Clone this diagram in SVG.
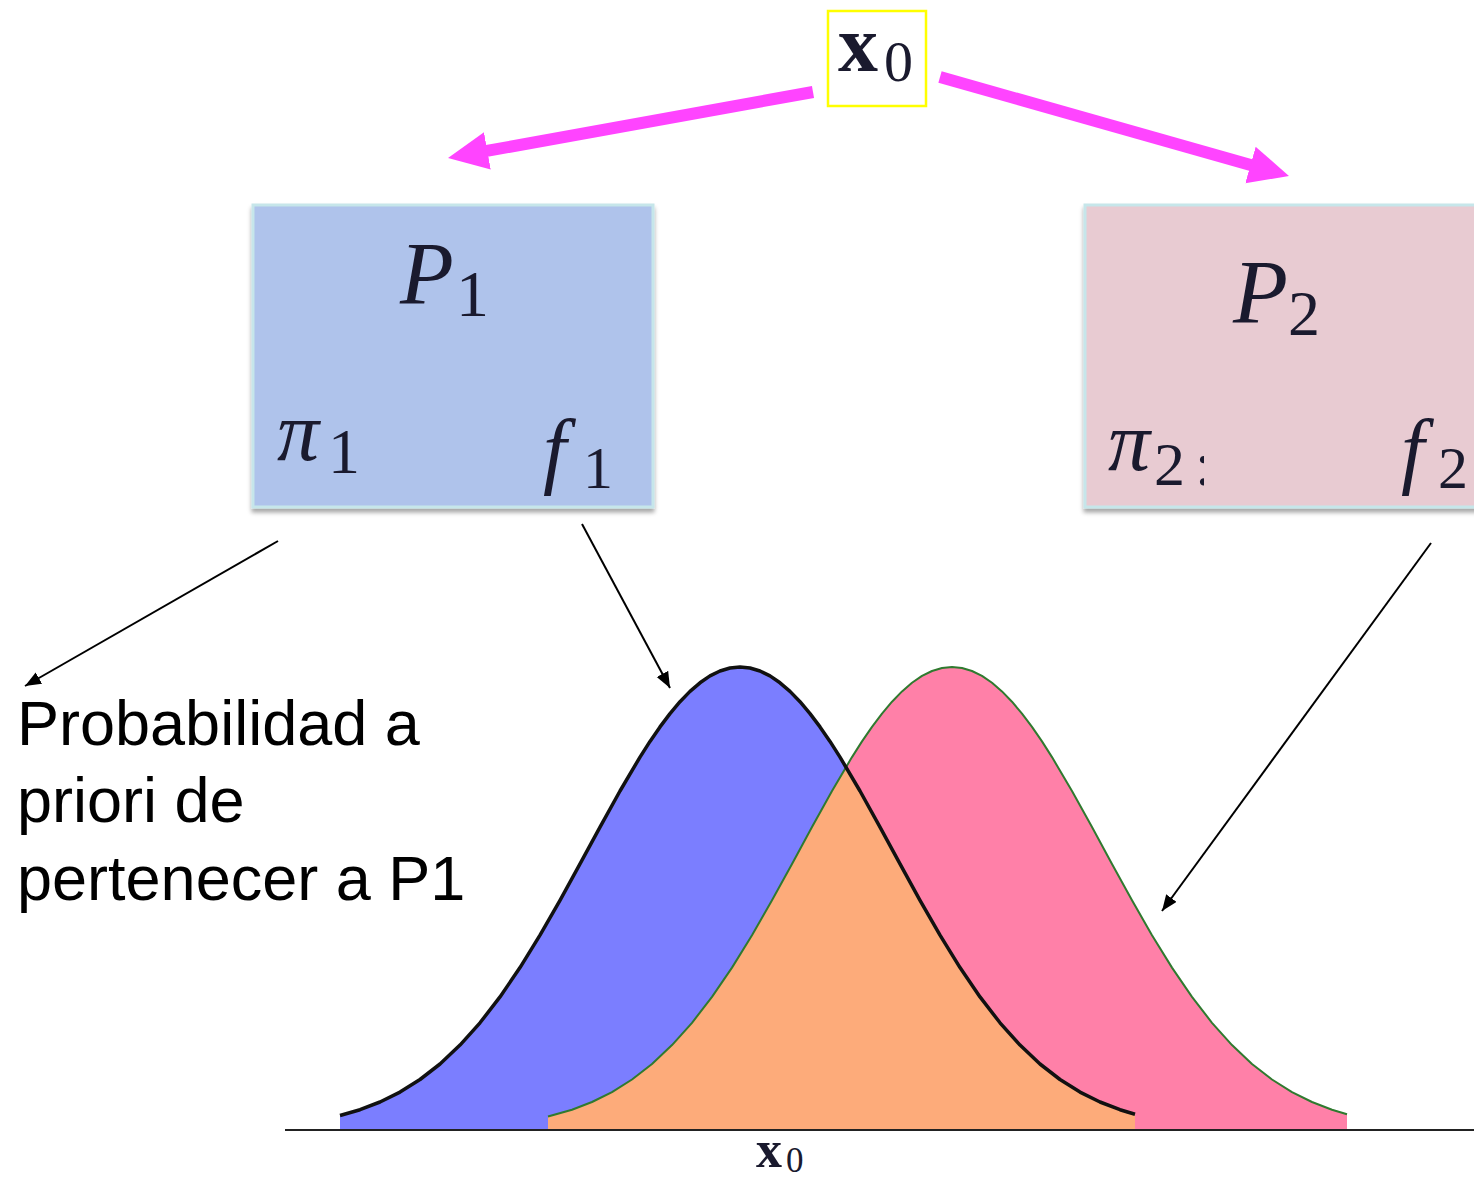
<svg xmlns="http://www.w3.org/2000/svg" width="1474" height="1181" viewBox="0 0 1474 1181">
<style>
.math{font-family:"Liberation Serif","DejaVu Serif",serif;fill:#1a1a2e}
.it{font-style:italic}
.lbl{font-family:"Liberation Sans",Arial,sans-serif;font-size:63px;fill:#000}
.thin{stroke:#000;stroke-width:2;fill:none}
.thick{stroke:#ff44ff;stroke-width:12;fill:none}
.box1{fill:#afc3eb;stroke:#c6e6ea;stroke-width:3}
.box2{fill:#e8cbd2;stroke:#c6e6ea;stroke-width:3}
</style>
<defs>
<marker id="mag" markerUnits="userSpaceOnUse" markerWidth="42" markerHeight="40" refX="2" refY="19" orient="auto">
<path d="M0,0 L40,19 L0,38 Z" fill="#ff44ff"/>
</marker>
<marker id="blk" markerUnits="userSpaceOnUse" markerWidth="18" markerHeight="14" refX="16" refY="6.5" orient="auto">
<path d="M0,0 L16,6.5 L0,13 Z" fill="#000"/>
</marker>
<filter id="sh" x="-5%" y="-5%" width="110%" height="115%">
<feDropShadow dx="0" dy="4" stdDeviation="2" flood-color="#000" flood-opacity="0.35"/>
</filter>
<clipPath id="clipc"><rect x="1190" y="430" width="14" height="80"/></clipPath>
</defs>
<rect width="1474" height="1181" fill="#fff"/>

<g id="curves">
<path id="blueArea" fill="#7b7eff" d="M340,1115.5 L360,1109.7 L380,1102 L400,1092.1 L420,1079.5 L440,1064 L460,1045.1 L480,1022.8 L500,996.9 L520,967.6 L540,935.2 L560,900.3 L580,863.9 L600,827.1 L620,791 L640,757.1 L650,741.4 L660,726.9 L670,713.6 L680,701.7 L690,691.4 L700,682.8 L710,675.9 L720,671 L730,668 L740,667 L750,668 L760,671 L770,675.9 L780,682.8 L790,691.4 L800,701.7 L810,713.6 L820,726.9 L830,741.4 L840,757.1 L860,791 L880,827.1 L900,863.9 L920,900.3 L940,935.2 L960,967.6 L980,996.9 L1000,1022.8 L1020,1045.1 L1040,1064 L1060,1079.5 L1080,1092.1 L1100,1102 L1120,1109.7 L1135,1114.2 L1135,1130 L340,1130 Z"/>
<path id="pinkArea" fill="#ff80a8" d="M548,1116.5 L572,1109.7 L592,1102 L612,1092.1 L632,1079.5 L652,1064 L672,1045.1 L692,1022.8 L712,996.9 L732,967.6 L752,935.2 L772,900.3 L792,863.9 L812,827.1 L832,791 L852,757.1 L862,741.4 L872,726.9 L882,713.6 L892,701.7 L902,691.4 L912,682.8 L922,675.9 L932,671 L942,668 L952,667 L962,668 L972,671 L982,675.9 L992,682.8 L1002,691.4 L1012,701.7 L1022,713.6 L1032,726.9 L1042,741.4 L1052,757.1 L1072,791 L1092,827.1 L1112,863.9 L1132,900.3 L1152,935.2 L1172,967.6 L1192,996.9 L1212,1022.8 L1232,1045.1 L1252,1064 L1272,1079.5 L1292,1092.1 L1312,1102 L1332,1109.7 L1347,1114.2 L1347,1130 L548,1130 Z"/>
<path id="overlap" fill="#fdab7a" d="M548,1116.5 L572,1109.7 L592,1102 L612,1092.1 L632,1079.5 L652,1064 L672,1045.1 L692,1022.8 L712,996.9 L732,967.6 L752,935.2 L772,900.3 L792,863.9 L812,827.1 L832,791 L846,766.9 L860,791 L880,827.1 L900,863.9 L920,900.3 L940,935.2 L960,967.6 L980,996.9 L1000,1022.8 L1020,1045.1 L1040,1064 L1060,1079.5 L1080,1092.1 L1100,1102 L1120,1109.7 L1135,1114.2 L1135,1130 L548,1130 Z"/>
<path id="pinkLine" fill="none" stroke="#2f7a2f" stroke-width="2" stroke-linejoin="round" d="M548,1116.5 L572,1109.7 L592,1102 L612,1092.1 L632,1079.5 L652,1064 L672,1045.1 L692,1022.8 L712,996.9 L732,967.6 L752,935.2 L772,900.3 L792,863.9 L812,827.1 L832,791 L852,757.1 L862,741.4 L872,726.9 L882,713.6 L892,701.7 L902,691.4 L912,682.8 L922,675.9 L932,671 L942,668 L952,667 L962,668 L972,671 L982,675.9 L992,682.8 L1002,691.4 L1012,701.7 L1022,713.6 L1032,726.9 L1042,741.4 L1052,757.1 L1072,791 L1092,827.1 L1112,863.9 L1132,900.3 L1152,935.2 L1172,967.6 L1192,996.9 L1212,1022.8 L1232,1045.1 L1252,1064 L1272,1079.5 L1292,1092.1 L1312,1102 L1332,1109.7 L1347,1114.2"/>
<path id="blueLine" fill="none" stroke="#111" stroke-width="3.5" stroke-linejoin="round" d="M340,1115.5 L360,1109.7 L380,1102 L400,1092.1 L420,1079.5 L440,1064 L460,1045.1 L480,1022.8 L500,996.9 L520,967.6 L540,935.2 L560,900.3 L580,863.9 L600,827.1 L620,791 L640,757.1 L650,741.4 L660,726.9 L670,713.6 L680,701.7 L690,691.4 L700,682.8 L710,675.9 L720,671 L730,668 L740,667 L750,668 L760,671 L770,675.9 L780,682.8 L790,691.4 L800,701.7 L810,713.6 L820,726.9 L830,741.4 L840,757.1 L860,791 L880,827.1 L900,863.9 L920,900.3 L940,935.2 L960,967.6 L980,996.9 L1000,1022.8 L1020,1045.1 L1040,1064 L1060,1079.5 L1080,1092.1 L1100,1102 L1120,1109.7 L1135,1114.2"/>
<line x1="285" y1="1130" x2="1474" y2="1130" stroke="#222" stroke-width="2"/>
<text class="math" font-weight="bold" font-size="52" x="756" y="1167">x</text>
<text class="math" font-size="35" x="786" y="1172">0</text>
</g>

<g id="node-x0">
<rect x="828" y="11" width="98" height="95" fill="#fff" stroke="#ffff00" stroke-width="2.5"/>
<text class="math" font-weight="bold" font-size="80" x="838" y="71">x</text>
<text class="math" font-size="58" x="884" y="81">0</text>
</g>

<g id="node-P1">
<rect class="box1" x="253" y="205" width="400" height="302" filter="url(#sh)"/>
<text class="math it" font-size="88" x="400" y="303">P</text>
<text class="math" font-size="66" x="456" y="316">1</text>
<text class="math it" font-size="84" x="277" y="460">π</text>
<text class="math" font-size="64" x="328" y="473">1</text>
<text class="math it" font-size="84" x="543" y="478">f</text>
<text class="math" font-size="60" x="583" y="488">1</text>
</g>

<g id="node-P2">
<rect class="box2" x="1085" y="205" width="400" height="302" filter="url(#sh)"/>
<text class="math it" font-size="90" x="1233" y="323">P</text>
<text class="math" font-size="64" x="1288" y="335">2</text>
<text class="math it" font-size="84" x="1108" y="470">π</text>
<text class="math" font-size="62" x="1154" y="485">2</text>
<text class="math" font-size="62" x="1195" y="485" clip-path="url(#clipc)">:</text>
<text class="math it" font-size="84" x="1401" y="478">f</text>
<text class="math" font-size="60" x="1438" y="488">2</text>
</g>

<g id="node-label">
<text class="lbl" x="17" y="745">Probabilidad a</text>
<text class="lbl" x="17" y="822">priori de</text>
<text class="lbl" x="17" y="900">pertenecer a P1</text>
</g>

<g id="connectors">
<line class="thick" x1="813" y1="92" x2="485.4" y2="151.2" marker-end="url(#mag)"/>
<line class="thick" x1="940" y1="77" x2="1252.4" y2="165.6" marker-end="url(#mag)"/>
<line class="thin" x1="278" y1="541" x2="25" y2="686" marker-end="url(#blk)"/>
<line class="thin" x1="582" y1="524" x2="670" y2="688" marker-end="url(#blk)"/>
<line class="thin" x1="1431" y1="543" x2="1162" y2="911" marker-end="url(#blk)"/>
</g>
</svg>
